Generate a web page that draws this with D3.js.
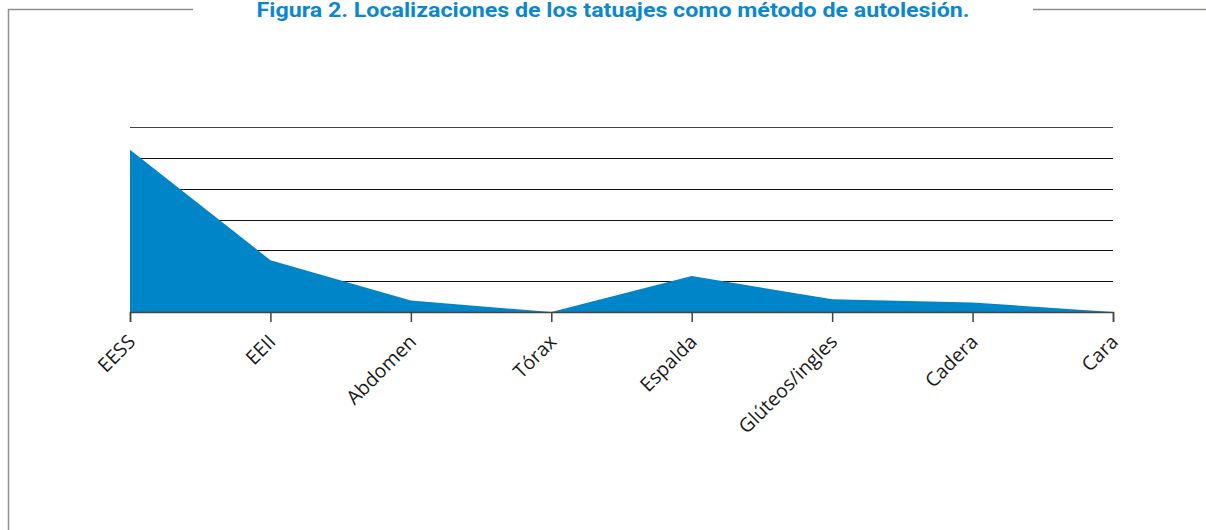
<!DOCTYPE html>
<html>
<head>
<meta charset="utf-8">
<script src="https://cdn.jsdelivr.net/npm/d3@7"></script>
<style>
  body { margin: 0; background: #fff; }
  svg { display: block; }
</style>
</head>
<body>
<div id="chart"></div>
<script>
// data
var categories = ["EESS", "EEII", "Abdomen", "Tórax", "Espalda", "Glúteos/ingles", "Cadera", "Cara"];
var values = [5.26, 1.68, 0.37, 0, 1.17, 0.41, 0.31, 0];
var gridTicks = [0, 1, 2, 3, 4, 5, 6];
var title = "Figura 2. Localizaciones de los tatuajes como método de autolesión.";

var width = 1206, height = 530;

var svg = d3.select("#chart").append("svg")
	.attr("width", width)
	.attr("height", height);

// frame around the figure
svg.append("path")
	.attr("d", "M193,9.5 H8.5 V530")
	.attr("fill", "none")
	.attr("stroke", "#8f8f88")
	.attr("stroke-width", 1.5);
svg.append("line")
	.attr("x1", 1033).attr("x2", 1206)
	.attr("y1", 9.5).attr("y2", 9.5)
	.attr("stroke", "#8f8f88")
	.attr("stroke-width", 1.5);

svg.append("text")
	.attr("x", 613)
	.attr("y", 17)
	.attr("text-anchor", "middle")
	.attr("textLength", 713)
	.attr("lengthAdjust", "spacingAndGlyphs")
	.style("font-family", "Roboto, sans-serif")
	.style("font-weight", "bold")
	.style("font-size", "19.5px")
	.style("fill", "#0a88cf")
	.text(title);

var xScale = d3.scalePoint()
	.domain(categories)
	.range([130, 1113]);

var yScale = d3.scaleLinear()
	.domain([0, 6])
	.range([312, 127]);

// gridlines
svg.append("g")
	.selectAll("line")
	.data(gridTicks.slice(1))
	.enter().append("line")
	.attr("x1", 130).attr("x2", 1113)
	.attr("y1", function(d){ return Math.round(yScale(d)) + 0.5; })
	.attr("y2", function(d){ return Math.round(yScale(d)) + 0.5; })
	.attr("stroke", function(d){ return d == 6 ? "#444" : "#111"; })
	.attr("stroke-width", 1.2);

// area
var area = d3.area()
	.x(function(d, i){ return xScale(categories[i]); })
	.y0(yScale(0))
	.y1(function(d){ return yScale(d); });

svg.append("path")
	.datum(values)
	.attr("fill", "#0085c9")
	.attr("d", area);

// x axis
var xAxis = d3.axisBottom(xScale)
	.tickSize(10)
	.tickPadding(6);

var gx = svg.append("g")
	.attr("transform", "translate(0," + yScale(0) + ")")
	.call(xAxis);

gx.select(".domain")
	.attr("stroke", "#444")
	.attr("stroke-width", 1.5);
gx.selectAll(".tick line")
	.attr("stroke", "#444")
	.attr("stroke-width", 1.5);

gx.selectAll(".tick text")
	.attr("text-anchor", "end")
	.attr("dy", null)
	.attr("x", 0)
	.attr("y", 0)
	.attr("transform", "translate(6,31) rotate(-45)")
	.style("font-family", "'Open Sans', sans-serif")
	.style("font-size", "19.5px")
	.style("fill", "#1a1a1a");
</script>
</body>
</html>
